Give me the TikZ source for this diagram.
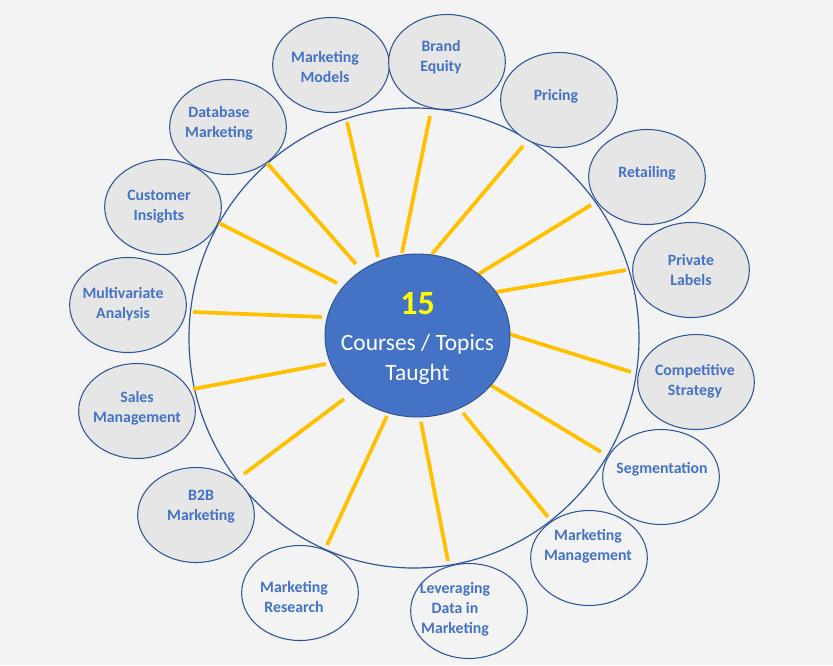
\documentclass[tikz,border=0pt]{standalone}
\usepackage{fontspec}
\setmainfont{Carlito}
\usepackage{tikz}
\usetikzlibrary{shapes.geometric}

\definecolor{bgcol}{HTML}{F3F3F3}
\definecolor{topicfill}{HTML}{E7E6E6}
\definecolor{topicedge}{HTML}{2F5597}
\definecolor{topictext}{HTML}{4472C4}
\definecolor{hubfill}{HTML}{4472C4}
\definecolor{hubedge}{HTML}{2F528F}
\definecolor{spokecol}{HTML}{FFC000}
\definecolor{numcol}{HTML}{FFFF00}

\begin{document}
\begin{tikzpicture}[x=0.03cm, y=-0.03cm,
		topic/.style={
			ellipse,
			draw=topicedge,
			line width=0.9pt,
			fill=topicfill,
			minimum width=3.5cm,
			minimum height=2.85cm,
			inner sep=0pt
		},
		pale/.style={fill=bgcol},
		topiclabel/.style={
			align=center,
			inner sep=0pt,
			text=topictext,
			font=\fontsize{13.5}{17}\selectfont\bfseries
		},
		hub/.style={
			ellipse,
			draw=hubedge,
			line width=0.8pt,
			fill=hubfill,
			minimum width=5.55cm,
			minimum height=4.89cm,
			inner sep=0pt
		},
		hubtext/.style={
			align=center,
			inner sep=0pt,
			text=white,
			font=\fontsize{20}{25.5}\selectfont
		},
		ring/.style={
			ellipse,
			draw=topicedge,
			line width=1pt,
			minimum width=13.5cm,
			minimum height=13.8cm
		},
		spoke/.style={
			spokecol,
			line width=3.2pt
		}
	]
	
	\fill[bgcol] (0,0) rectangle (833,665);
	
	\node[ring] (ring) at (414,338) {};
	
	% spokes: number / inner end / outer end
	\foreach \n/\ix/\iy/\ox/\oy in {
		1/378/257/347/122, 2/402/253/430/116, 3/432/254/523/146,
		4/477/275/591/205, 5/496/292/626/270, 6/506/333/631/372,
		7/487/383/601/452, 8/463/413/548/517, 9/421/422/448/561,
		10/387/416/327/545, 11/344/399/244/474, 12/326/364/193/389,
		13/322/317/193/312, 14/337/283/219/223, 15/356/264/267/163}
	{
		\coordinate (s\n-in) at (\ix,\iy);
		\coordinate (s\n-out) at (\ox,\oy);
		\draw[spoke] (s\n-in) -- (s\n-out);
	}
	
	\node[hub] (hub) at (417.5,335.5) {};
	\node[hubtext] (hubtitle) at ([shift={(0,3)}]hub) {{\fontsize{29}{29}\selectfont\bfseries\textcolor{numcol}{15}}\\[5.5pt] Courses / Topics\\ Taught};
	
	\node[topic] (mmodels) at (331,65) {};
	\node[topic] (brand) at (447,62) {};
	\node[topic] (pricing) at (559,100) {};
	\node[topic] (retail) at (647,177) {};
	\node[topic] (private) at (691,270) {};
	\node[topic] (compet) at (696,382) {};
	\node[topic, pale] (segment) at (661,477) {};
	\node[topic, pale] (mgmt) at (589,558) {};
	\node[topic, pale] (leverage) at (469,611) {};
	\node[topic, pale] (research) at (300,593) {};
	\node[topic] (btob) at (196,515) {};
	\node[topic] (sales) at (137,411) {};
	\node[topic] (multivar) at (128,305) {};
	\node[topic] (insights) at (163,207) {};
	\node[topic] (database) at (228,127) {};
	
	% labels sit a little off the centre of their ellipses
	\node[topiclabel] (mmodels-t) at ([shift={(-6,2)}]mmodels) {Marketing\\ Models};
	\node[topiclabel] (brand-t) at ([shift={(-6,-5)}]brand) {Brand\\ Equity};
	\node[topiclabel] (pricing-t) at ([shift={(-3,-4)}]pricing) {Pricing};
	\node[topiclabel] (retail-t) at ([shift={(0,-4)}]retail) {Retailing};
	\node[topiclabel] (private-t) at (private) {Private\\ Labels};
	\node[topiclabel] (compet-t) at ([shift={(-1,-1)}]compet) {Competitive\\ Strategy};
	\node[topiclabel] (segment-t) at ([shift={(1,-8)}]segment) {Segmentation};
	\node[topiclabel] (mgmt-t) at ([shift={(-1,-12)}]mgmt) {Marketing\\ Management};
	\node[topiclabel] (leverage-t) at ([shift={(-14,-2)}]leverage) {Leveraging\\ Data in\\ Marketing};
	\node[topiclabel] (research-t) at ([shift={(-6,4)}]research) {Marketing\\ Research};
	\node[topiclabel] (btob-t) at ([shift={(5,-8)}]btob) {B2B\\ Marketing};
	\node[topiclabel] (sales-t) at ([shift={(0,-3)}]sales) {Sales\\ Management};
	\node[topiclabel] (multivar-t) at ([shift={(-5,-1)}]multivar) {Multivariate\\ Analysis};
	\node[topiclabel] (insights-t) at ([shift={(-4,0)}]insights) {Customer\\ Insights};
	\node[topiclabel] (database-t) at ([shift={(-9,-4)}]database) {Database\\ Marketing};
	
\end{tikzpicture}
\end{document}
